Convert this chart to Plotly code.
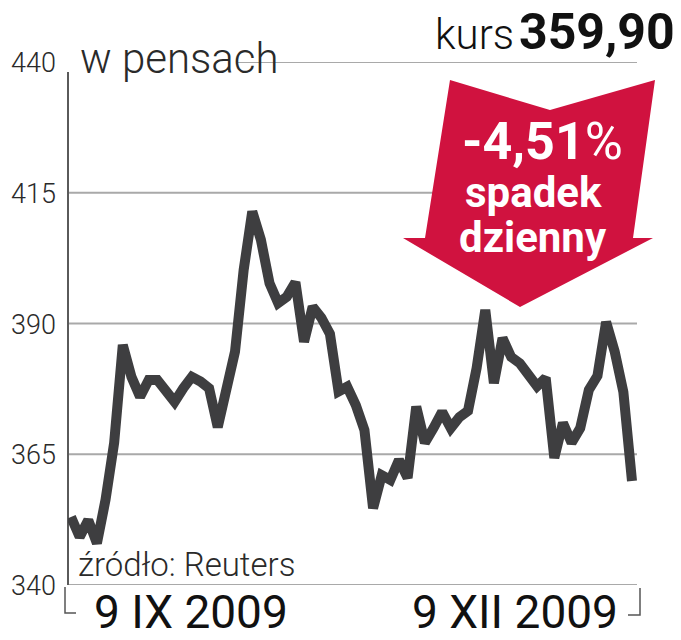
import pandas as pd
import plotly.graph_objects as go

# ---- data ----
dates = pd.bdate_range("2009-09-09", "2009-12-09").strftime("%Y-%m-%d").tolist()
prices = [353.0, 349.2, 352.4, 348.0, 356.3, 367.2, 385.9, 379.8, 376.0, 379.2,
          379.2, 376.7, 375.0, 377.6, 379.8, 378.9, 377.6, 370.2, 377.5, 384.6,
          400.2, 411.4, 406.0, 397.7, 393.9, 395.1, 397.9, 386.5, 393.2, 391.1,
          388.0, 377.0, 377.9, 374.4, 369.6, 354.7, 361.0, 360.1, 363.9, 360.5,
          374.1, 367.2, 370.0, 373.1, 370.0, 372.1, 373.3, 381.5, 392.6, 378.6,
          387.2, 383.6, 382.4, 380.0, 378.0, 379.6, 364.3, 371.0, 367.2, 370.0,
          377.3, 380.0, 390.3, 384.6, 376.9, 359.9]
y_ticks = [340, 365, 390, 415, 440]
y_tick_labels = ["340", "365", "390", "415", "440"]
start_label = "9 IX 2009"
end_label = "9 XII 2009"
unit_label = "w pensach"
source_label = "źródło: Reuters"
price_label = "359,90"
change_label = "-4,51"

# ---- layout helpers (page pixel -> paper) ----
OFF = 8  # page body margin
FW, FH = 681 - OFF, 640 - OFF
L, R, T, B = 68, 637, 62, 585
W, H = R - L, B - T


def px(x):
    return (x - L) / W


def py(y):
    return (B - y) / H


LINE_COL = "#3e3e40"
RED = "#d0123f"
TXT = "#2a2a2a"
GRID = "#a9a9a9"
FONT = "Roboto"

fig = go.Figure()
fig.add_trace(go.Scatter(
    x=dates, y=prices, mode="lines",
    line=dict(color=LINE_COL, width=10),
    hoverinfo="skip", showlegend=False,
))

shapes = []
for v in y_ticks[1:4]:
    shapes.append(dict(type="line", xref="paper", yref="y", x0=0, x1=1, y0=v, y1=v,
                       line=dict(color=GRID, width=2), layer="below"))
shapes.append(dict(type="line", xref="paper", yref="y", x0=px(238), x1=1, y0=440, y1=440,
                   line=dict(color=GRID, width=2), layer="below"))
shapes.append(dict(type="line", xref="paper", yref="y", x0=0, x1=1, y0=340, y1=340,
                   line=dict(color=GRID, width=2), layer="below"))
shapes.append(dict(type="line", xref="paper", yref="paper", x0=0, x1=0, y0=0, y1=py(72),
                   line=dict(color="#5a5a5a", width=2), layer="below"))
shapes.append(dict(type="path", xref="paper", yref="paper",
                   path=f"M {px(65)},{py(587)} L {px(65)},{py(613)} L {px(76)},{py(613)}",
                   line=dict(color="#555555", width=1.5)))
shapes.append(dict(type="path", xref="paper", yref="paper",
                   path=f"M {px(640)},{py(588)} L {px(640)},{py(615)} L {px(628)},{py(615)}",
                   line=dict(color="#555555", width=1.5)))
pts = [(450, 80), (550, 110), (655, 80), (633, 238), (653, 238), (520, 307), (403, 238), (425, 238)]
path = "M " + " L ".join(f"{px(a)},{py(b)}" for a, b in pts) + " Z"
shapes.append(dict(type="path", xref="paper", yref="paper", path=path,
                   fillcolor=RED, line=dict(color=RED, width=0), layer="above"))

ann = []
for v, t in zip(y_ticks, y_tick_labels):
    ann.append(dict(xref="paper", yref="y", x=px(58), y=v, yshift=-1, text=t, showarrow=False,
                    xanchor="right", yanchor="middle",
                    font=dict(family=FONT, size=27, color=TXT, weight=300)))
ann.append(dict(xref="paper", yref="paper", x=px(78), y=py(58), text=unit_label, showarrow=False,
                xanchor="left", yanchor="middle",
                font=dict(family=FONT, size=42, color=TXT, weight=300)))
ann.append(dict(xref="paper", yref="paper", x=px(76), y=py(564), text=source_label, showarrow=False,
                xanchor="left", yanchor="middle",
                font=dict(family=FONT, size=33, color=TXT, weight=300)))
ann.append(dict(xref="paper", yref="paper", x=px(92), y=py(612), text=start_label, showarrow=False,
                xanchor="left", yanchor="middle",
                font=dict(family=FONT, size=46, color="#111111", weight=400)))
ann.append(dict(xref="paper", yref="paper", x=px(620), y=py(612), text=end_label, showarrow=False,
                xanchor="right", yanchor="middle",
                font=dict(family=FONT, size=46, color="#111111", weight=400)))
ann.append(dict(xref="paper", yref="paper", x=px(677), y=py(32), text=price_label, showarrow=False,
                xanchor="right", yanchor="middle",
                font=dict(family=FONT, size=50, color="#111111", weight=700)))
ann.append(dict(xref="paper", yref="paper", x=px(516), y=py(34), text="kurs", showarrow=False,
                xanchor="right", yanchor="middle",
                font=dict(family=FONT, size=42, color="#111111", weight=300)))
ann.append(dict(xref="paper", yref="paper", x=px(542), y=py(141), text=f"<b>{change_label}</b>%", showarrow=False,
                xanchor="center", yanchor="middle",
                font=dict(family=FONT, size=52, color="white", weight=400)))
ann.append(dict(xref="paper", yref="paper", x=px(533), y=py(192), text="spadek", showarrow=False,
                xanchor="center", yanchor="middle",
                font=dict(family=FONT, size=42, color="white", weight=700)))
ann.append(dict(xref="paper", yref="paper", x=px(533), y=py(237), text="dzienny", showarrow=False,
                xanchor="center", yanchor="middle",
                font=dict(family=FONT, size=42, color="white", weight=700)))

fig.update_layout(
    width=FW, height=FH,
    margin=dict(l=L - OFF, r=681 - R, t=T - OFF, b=640 - B),
    paper_bgcolor="white", plot_bgcolor="white",
    xaxis=dict(type="category", range=[-0.35, 65.58], showgrid=False, zeroline=False,
               showticklabels=False, showline=False, ticks="", fixedrange=True),
    yaxis=dict(range=[340, 440], showgrid=False, zeroline=False, showticklabels=False,
               showline=False, ticks="", fixedrange=True),
    shapes=shapes, annotations=ann,
)

fig.write_html("out.html")
